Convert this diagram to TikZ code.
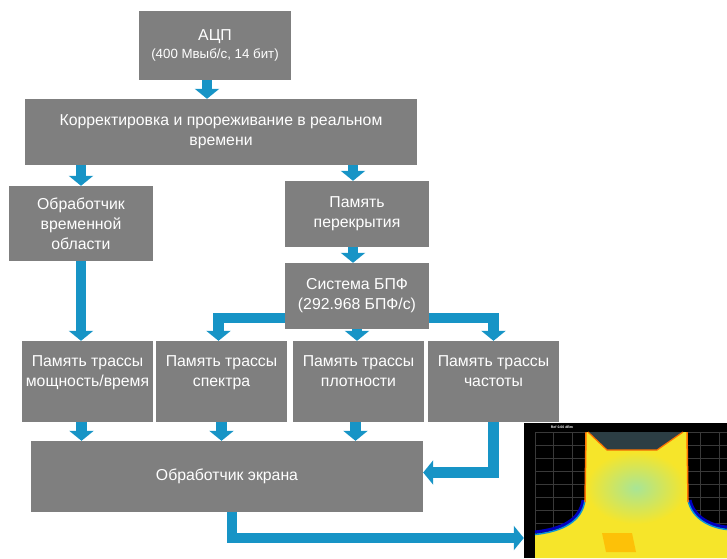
\documentclass[tikz,border=0pt]{standalone}
\usepackage{fontspec}
\setmainfont{Liberation Sans}
\usetikzlibrary{arrows.meta,positioning,calc}
\definecolor{box-color}{HTML}{7F7F7F}
\definecolor{arr-color}{HTML}{1794C6}
\definecolor{sig-yellow}{HTML}{F6E52A}
\definecolor{sig-dark}{HTML}{2C3E44}
\definecolor{sig-green}{HTML}{A8E596}

\begin{document}
\begin{tikzpicture}[x=1pt, y=-1pt,
                >={Triangle[width=24pt,length=10pt]},
                every node/.append style={align=center},
                blk/.style={fill=box-color, text=white, inner sep=0pt,
                            font=\fontsize{15.8}{20}\selectfont},
                flow/.style={->, draw=arr-color, line width=10.5pt},
                grd/.style={draw=gray!45!black, line width=0.5pt}]

               \useasboundingbox (0,0) rectangle (727,558);

               \node [blk, minimum width=152pt, minimum height=69pt] (adc) at (215,45.5)
                     {АЦП\\[-2pt]{\fontsize{13.3}{14}\selectfont(400 Мвыб/с, 14 бит)}};
               \node [blk, minimum width=392pt, minimum height=66pt] (corr) at (221,132)
                     {Корректировка и прореживание в реальном\\времени};
               \node [blk, minimum width=144pt, minimum height=75pt] (tdp) at (81,223.5)
                     {Обработчик\\временной\\области};
               \node [blk, minimum width=144pt, minimum height=66pt] (ovl) at (357,214)
                     {Память\\перекрытия};
               \node [blk, minimum width=144pt, minimum height=66pt] (fft) at (357,296)
                     {Система БПФ\\(292.968 БПФ/с)};
               \node [blk, minimum width=131pt, minimum height=81pt] (pt1) at (87.5,381.5)
                     {Память трассы\\мощность/время\\\mbox{}};
               \node [blk, minimum width=131pt, minimum height=81pt] (pt2) at (221.5,381.5)
                     {Память трассы\\спектра\\\mbox{}};
               \node [blk, minimum width=131pt, minimum height=81pt] (pt3) at (358.5,381.5)
                     {Память трассы\\плотности\\\mbox{}};
               \node [blk, minimum width=131pt, minimum height=81pt] (pt4) at (493.5,381.5)
                     {Память трассы\\частоты\\\mbox{}};
               \node [blk, minimum width=392pt, minimum height=71pt] (disp) at (227,476.5)
                     {Обработчик экрана};
               \node [inner sep=0pt, minimum width=203pt, minimum height=135pt] (scr) at (625.5,490.5) {};

               % screen shot
               \begin{scope}
                  \clip (scr.south west) rectangle (scr.north east);
                  \fill[black] (scr.south west) rectangle (scr.north east);
                  \foreach \gx in {535,553.4,...,727} \draw[grd] (\gx,432) -- (\gx,558);
                  \foreach \gy in {432,445,...,558} \draw[grd] (535,\gy) -- (727,\gy);
                  \fill[sig-yellow] (535,534) .. controls (562,531) and (582,522) .. (585,500)
                        -- (586,432) -- (687,432) -- (688,500)
                        .. controls (692,520) and (712,528) .. (727,529) -- (727,558) -- (535,558) -- cycle;
                  \draw[blue!75!black, line width=3pt] (535,532) .. controls (562,529) and (580,520) .. (583,500);
                  \draw[cyan!80!blue, line width=1.5pt] (535,534.5) .. controls (562,531.5) and (582,522) .. (585,500);
                  \draw[blue!75!black, line width=3pt] (690,500) .. controls (694,518) and (712,526) .. (727,527);
                  \draw[cyan!80!blue, line width=1.5pt] (688,500) .. controls (692,520) and (712,528) .. (727,529.5);
                  \draw[orange!90!red, line width=1.5pt] (586,432) -- (585,502);
                  \draw[orange!90!red, line width=1.5pt] (687,432) -- (688,502);
                  \shade[inner color=sig-green, outer color=sig-yellow]
                        (636,488) ellipse [x radius=50pt, y radius=36pt];
                  \fill[orange!55!yellow, opacity=0.8] (602,533) -- (632,533) -- (636,552) -- (606,552) -- cycle;
                  \fill[sig-dark] (588,432) -- (683,432) -- (657,450) -- (607,450) -- cycle;
                  \draw[orange!90!red, line width=1.2pt] (588,432) -- (607,450) -- (657,450) -- (683,432);
                  \node[font=\fontsize{3.5}{4}\selectfont\bfseries, text=white, inner sep=0pt] (ref) at (562,427.5) {Ref 0.00 dBm};
               \end{scope}

               \draw[flow] ([xshift=-8pt]adc.south) -- ([xshift=-8pt]adc.south |- corr.north);
               \draw[flow] (tdp.north |- corr.south) -- (tdp.north);
               \draw[flow] ([xshift=-4pt]ovl.north |- corr.south) -- ([xshift=-4pt]ovl.north);
               \draw[flow] ([xshift=-4pt]ovl.south) -- ([xshift=-4pt]fft.north);
               \draw[flow] (tdp.south) -- (tdp.south |- pt1.north);
               \draw[flow] ([yshift=-22pt]fft.west) -| ([xshift=-3pt]pt2.north);
               \draw[flow] (fft.south) -- (fft.south |- pt3.north);
               \draw[flow] ([yshift=-22pt]fft.east) -| (pt4.north);
               \draw[flow] ([xshift=-6pt]pt1.south) -- ([xshift=-6pt]pt1.south |- disp.north);
               \draw[flow] (pt2.south) -- (pt2.south |- disp.north);
               \draw[flow] ([xshift=-3pt]pt3.south) -- ([xshift=-3pt]pt3.south |- disp.north);
               \draw[flow] (pt4.south) |- ([yshift=4pt]disp.east);
               \draw[flow] ([xshift=5pt]disp.south) |- ([yshift=-47.5pt]scr.west);
        \end{tikzpicture}
\end{document}
